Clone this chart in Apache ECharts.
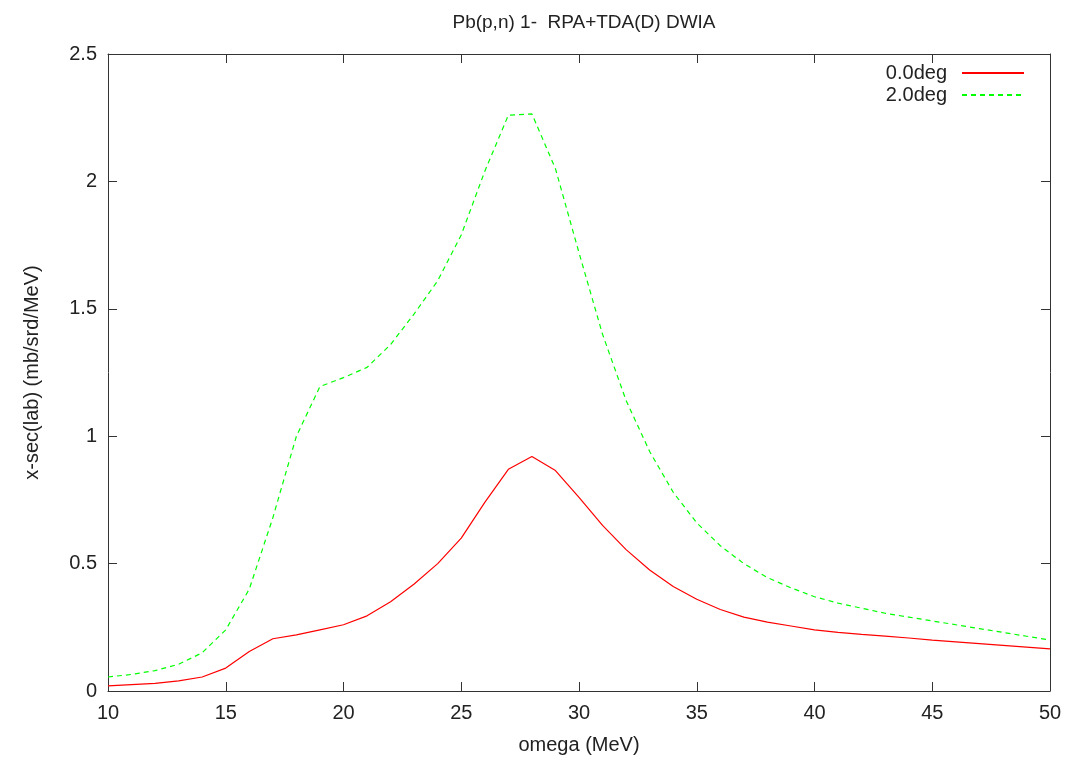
<!DOCTYPE html>
<html>
<head>
<meta charset="utf-8">
<script src="https://cdn.jsdelivr.net/npm/echarts@6/dist/echarts.min.js"></script>
<style>html,body{margin:0;padding:0;background:#fff}#c{width:1070px;height:765px}</style>
</head>
<body>
<div id="c"></div>
<script>
const omega = [10,11,12,13,14,15,16,17,18,19,20,21,22,23,24,25,26,27,28,29,30,31,32,33,34,35,36,37,38,39,40,41,42,43,44,45,46,47,48,49,50];
const deg0 = [0.02,0.025,0.03,0.04,0.055,0.09,0.155,0.205,0.22,0.24,0.26,0.295,0.35,0.42,0.5,0.6,0.74,0.87,0.92,0.865,0.76,0.65,0.555,0.475,0.41,0.36,0.32,0.29,0.27,0.255,0.24,0.23,0.222,0.215,0.208,0.2,0.193,0.186,0.179,0.172,0.165];
const deg2 = [0.055,0.065,0.08,0.105,0.15,0.24,0.4,0.68,1.0,1.195,1.23,1.27,1.36,1.48,1.61,1.79,2.04,2.26,2.265,2.05,1.72,1.4,1.14,0.94,0.78,0.66,0.57,0.5,0.445,0.405,0.37,0.345,0.325,0.305,0.29,0.275,0.26,0.245,0.23,0.215,0.2];
const seriesNames = ['0.0deg','2.0deg'];
const titleText = 'Pb(p,n) 1-  RPA+TDA(D) DWIA';
const xName = 'omega (MeV)';
const yName = 'x-sec(lab) (mb/srd/MeV)';

const font = 'Liberation Sans, Arial, sans-serif';
const fs = 20;
const axisLine = {show:true, onZero:false, lineStyle:{color:'#333', width:1}};
const tick = {show:true, inside:true, length:9, lineStyle:{color:'#333'}};
const chart = echarts.init(document.getElementById('c'), null, {renderer:'canvas'});
chart.setOption({
  animation:false,
  backgroundColor:'#fff',
  title:{text:titleText, left:579, textAlign:'center', top:8, textStyle:{fontFamily:font, fontSize:19, fontWeight:'normal', color:'#222'}},
  legend:{orient:'vertical', right:45, top:63, padding:0, align:'right', itemWidth:62, itemHeight:14, itemGap:2,
    itemStyle:{opacity:0},
    textStyle:{fontFamily:font, fontSize:fs, color:'#222', lineHeight:20, padding:[0,10,0,0]}, data:seriesNames},
  grid:{left:108, right:20, top:54, bottom:74, show:false},
  xAxis:[
    {type:'value', min:10, max:50, interval:5, position:'bottom', axisLine:axisLine, axisTick:tick, splitLine:{show:false},
     axisLabel:{fontFamily:font, fontSize:fs, color:'#222', margin:12},
     name:xName, nameLocation:'middle', nameGap:44, nameTextStyle:{fontFamily:font, fontSize:fs, color:'#222'}},
    {type:'value', min:10, max:50, interval:5, position:'top', axisLine:axisLine, axisTick:tick, splitLine:{show:false}, axisLabel:{show:false}}
  ],
  yAxis:[
    {type:'value', min:0, max:2.5, interval:0.5, position:'left', axisLine:axisLine, axisTick:tick, splitLine:{show:false},
     axisLabel:{fontFamily:font, fontSize:fs, color:'#222', margin:11},
     name:yName, nameLocation:'middle', nameGap:66, nameRotate:90, nameTextStyle:{fontFamily:font, fontSize:fs, color:'#222'}},
    {type:'value', min:0, max:2.5, interval:0.5, position:'right', axisLine:axisLine, axisTick:tick, splitLine:{show:false}, axisLabel:{show:false}}
  ],
  series:[
    {name:seriesNames[0], type:'line', symbol:'none', data:omega.map((x,i)=>[x,deg0[i]]), lineStyle:{color:'#ff0000', width:1.2}, itemStyle:{color:'#ff0000'}},
    {name:seriesNames[1], type:'line', symbol:'none', data:omega.map((x,i)=>[x,deg2[i]]), lineStyle:{color:'#00ff00', width:1.2, type:[5,4]}, itemStyle:{color:'#00ff00'}}
  ]
});
</script>
</body>
</html>
